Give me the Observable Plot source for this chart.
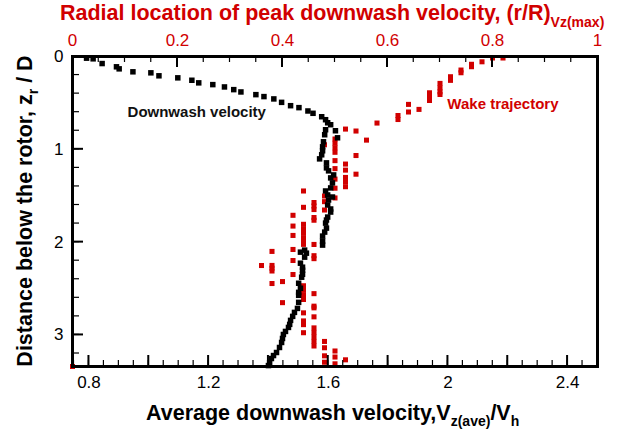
<!DOCTYPE html>
<html><head><meta charset="utf-8">
<script src="https://cdn.jsdelivr.net/npm/d3@7"></script>
<script src="https://cdn.jsdelivr.net/npm/@observablehq/plot@0.6"></script>
<style>
html,body{margin:0;padding:0;background:#fff;}
#chart{position:relative;width:622px;height:432px;font-family:"Liberation Sans",Arial,Helvetica,sans-serif;}
#chart > svg{position:absolute;left:0;top:0;}
</style></head><body><div id="chart"></div>
<script>
// Black series: average downwash velocity vs depth
const downwashVelocity = [0.792,0.814,0.844,0.892,0.901,0.947,1.007,1.034,1.097,1.144,1.167,1.214,1.253,1.284,1.308,1.358,1.385,1.418,1.444,1.474,1.502,1.532,1.549,
  1.578,1.591,1.598,1.608,1.591,1.624,1.588,1.631,1.584,1.581,1.581,1.578,1.571,1.594,1.594,1.601,1.618,1.608,1.614,1.608,1.591,1.598,1.614,1.601,1.598,1.608,1.608,1.598,1.594,1.591,1.594,1.588,1.581,1.581,1.581,
  1.521,1.507,1.527,1.521,1.507,1.514,1.514,1.514,1.511,1.501,1.507,1.501,1.501,1.501,1.497,1.487,1.481,1.474,1.471,1.467,1.457,1.450,1.447,1.444,1.437,1.427,1.417,1.410,1.404,1.400];
const downwashDepth = [0.018,0.025,0.076,0.111,0.133,0.165,0.176,0.208,0.230,0.256,0.284,0.303,0.328,0.357,0.382,0.411,0.432,0.457,0.494,0.530,0.551,0.587,0.612,
  0.649,0.681,0.714,0.735,0.789,0.800,0.843,0.876,0.919,0.973,1.016,1.059,1.103,1.146,1.200,1.232,1.276,1.308,1.362,1.416,1.449,1.492,1.514,1.546,1.600,1.643,1.676,1.730,1.762,1.795,1.849,1.892,1.935,1.989,2.032,
  2.086,2.108,2.119,2.162,2.227,2.270,2.303,2.346,2.378,2.443,2.497,2.541,2.573,2.649,2.714,2.757,2.800,2.843,2.886,2.919,2.962,2.995,3.038,3.081,3.135,3.189,3.222,3.254,3.297,3.330];

// Red series: radial location of peak downwash velocity vs depth
const wakeRadius = [
  0.82, 0.80, 0.78, 0.76, 0.76, 0.74, 0.74, 0.72, 0.72,
  0.70, 0.70, 0.70, 0.70, 0.68, 0.68, 0.68, 0.66, 0.64, 0.64,
  0.62, 0.62, 0.58, 0.56, 0.54, 0.54, 0.54,
  0.52, 0.52, 0.52, 0.52, 0.52, 0.52, 0.52,
  0.50, 0.50, 0.50, 0.50, 0.50, 0.50, 0.50, 0.50, 0.50, 0.50, 0.50, 0.50,
  0.48, 0.48, 0.48, 0.48, 0.48, 0.48, 0.48, 0.48,
  0.46, 0.46, 0.46, 0.46, 0.46, 0.46, 0.46, 0.46, 0.46, 0.46, 0.46, 0.46, 0.46, 0.46, 0.46, 0.46, 0.46,
  0.44, 0.44, 0.44, 0.44, 0.44, 0.44, 0.44, 0.44, 0.44, 0.44, 0.44, 0.44, 0.44, 0.44, 0.44, 0.44,
  0.42, 0.42, 0.42, 0.42, 0.42, 0.42,
  0.40, 0.40,
  0.38, 0.38, 0.38, 0.38, 0.38,
  0.36, 0.00];
const wakeDepth = [
  0.016, 0.016, 0.057, 0.084, 0.110, 0.146, 0.175, 0.218, 0.257,
  0.290, 0.338, 0.381, 0.409, 0.391, 0.432, 0.474, 0.570, 0.516, 0.598,
  0.636, 0.679, 0.717, 0.901, 0.803, 1.067, 1.268,
  0.782, 1.159, 1.224, 1.303, 1.351, 1.403, 3.268,
  0.889, 0.935, 0.984, 1.032, 1.122, 1.208, 1.321, 1.419, 1.524, 3.173, 3.238, 3.311,
  0.951, 1.503, 1.564, 1.654, 3.070, 3.138, 3.225, 3.294,
  1.573, 1.611, 1.649, 1.735, 1.764, 2.025, 2.146, 2.178, 2.555, 2.690, 2.708, 2.805, 2.924, 2.973, 3.022, 3.070, 3.119,
  1.449, 1.625, 1.808, 1.856, 1.905, 1.954, 2.002, 2.024, 2.470, 2.519, 2.568, 2.618, 2.762, 2.849, 2.889, 2.976,
  1.711, 1.827, 1.928, 2.079, 2.198, 2.349,
  2.425, 2.652,
  2.100, 2.251, 2.281, 2.311, 2.446,
  2.252, 3.34];

const velocityTickLabels = [0.8, 1.2, 1.6, 2, 2.4];
const radialTickLabels = [0, 0.2, 0.4, 0.6, 0.8, 1];
const depthTickLabels = [0, 1, 2, 3];

const RED = "#d10000";
const FONT = '"Liberation Sans", Arial, Helvetica, sans-serif';
const W = 622, H = 432, ML = 72, MR = 25, MT = 56, MB = 66;

const black = downwashVelocity.map((v, i) => ({v, z: downwashDepth[i]}));
const wake = wakeRadius.map((r, i) => ({r, z: wakeDepth[i]}));

const velMajor = d3.range(0.8, 2.45, 0.2);
const velMinor = d3.range(0.75, 2.501, 0.05);
const radMinor = d3.range(0, 1.001, 0.05);
const depMinor = d3.range(0, 3.35, 0.2);

const fmt = d => String(d);

const common = {
  width: W, height: H,
  marginLeft: ML, marginRight: MR, marginTop: MT, marginBottom: MB,
  y: {domain: [0, 3.34], reverse: true, axis: null},
  style: {background: "transparent", fontFamily: FONT, overflow: "visible"}
};

const redPlot = Plot.plot({
  ...common,
  x: {domain: [0, 1], axis: null},
  marks: [
    Plot.dot(wake, {x: "r", y: "z", symbol: "square", r: 2.85, fill: RED}),
    Plot.axisX(radialTickLabels, {anchor: "top", tickSize: 0, tickPadding: 11, fontSize: 17, fill: RED, tickFormat: fmt, label: null}),
    Plot.text(["Wake trajectory"], {x: 0.714, y: 0.511, text: d => d, textAnchor: "start", fill: RED, fontSize: 15, fontWeight: "bold"})
  ]
});

const blackPlot = Plot.plot({
  ...common,
  x: {domain: [0.745, 2.5], axis: null},
  marks: [
    Plot.dot(black, {x: "v", y: "z", symbol: "square", r: 3.1, fill: "black"}),
    Plot.axisX(velocityTickLabels, {anchor: "bottom", tickSize: 0, tickPadding: 9, fontSize: 17, fill: "black", tickFormat: fmt, label: null}),
    Plot.axisY(depthTickLabels, {anchor: "left", tickSize: 0, tickPadding: 9, fontSize: 17, fill: "black", tickFormat: fmt, label: null}),
    Plot.frame({stroke: "black", strokeWidth: 3}),
    Plot.text(["Downwash velocity"], {x: 0.929, y: 0.602, text: d => d, textAnchor: "start", fill: "#111", fontSize: 15, fontWeight: "bold"})
  ]
});

const chartDiv = document.getElementById("chart");
chartDiv.appendChild(redPlot);
chartDiv.appendChild(blackPlot);

// Scales taken from the rendered plots
function toLinear(desc, fallbackRange) {
  const dom = desc && desc.domain ? desc.domain : null;
  const rng = desc && desc.range ? desc.range : fallbackRange;
  return d3.scaleLinear(dom, rng);
}
const xV = toLinear(blackPlot.scale("x"), [ML, W - MR]);
const xR = toLinear(redPlot.scale("x"), [ML, W - MR]);
const yZ = toLinear(blackPlot.scale("y"), [MT, H - MB]);

// Overlay svg for inward ticks and titles (on top of both plots)
const over = d3.select(chartDiv).append("svg")
  .attr("width", W).attr("height", H).attr("viewBox", `0 0 ${W} ${H}`)
  .style("position", "absolute").style("left", "0px").style("top", "0px")
  .style("z-index", 10).style("pointer-events", "none").style("overflow", "visible");

const frameBottom = H - MB, frameTop = MT, frameLeft = ML;
function hTicks(values, scale, y0, dir, len, sw) {
  values.forEach(v => {
    const x = scale(v);
    over.append("path").attr("d", `M${x},${y0}V${y0 + dir * len}`)
      .attr("stroke", "#000").attr("stroke-width", sw).attr("fill", "none");
  });
}
function vTicks(values, scale, x0, len, sw) {
  values.forEach(v => {
    const y = scale(v);
    over.append("path").attr("d", `M${x0},${y}H${x0 + len}`)
      .attr("stroke", "#000").attr("stroke-width", sw).attr("fill", "none");
  });
}
hTicks(velMinor, xV, frameBottom, -1, 6, 1.2);
hTicks(velMajor, xV, frameBottom, -1, 11, 2);
hTicks(radMinor, xR, frameTop, 1, 6, 1.2);
hTicks(radialTickLabels, xR, frameTop, 1, 11, 2);
vTicks(depMinor, yZ, frameLeft, 7, 1.2);
vTicks(depthTickLabels, yZ, frameLeft, 11, 2);

// Top title (red)
const t1 = over.append("text").attr("x", 60).attr("y", 20).attr("fill", RED).attr("text-anchor", "start")
  .attr("font-weight", "bold").attr("font-size", 21.5).attr("font-family", FONT);
t1.append("tspan").text("Radial location of peak downwash velocity, (r/R)");
t1.append("tspan").attr("font-size", 14).attr("dy", 7).text("Vz(max)");

// Bottom title
const t2 = over.append("text").attr("x", 146).attr("y", 420).attr("fill", "black").attr("text-anchor", "start")
  .attr("font-weight", "bold").attr("font-size", 21.5).attr("font-family", FONT);
t2.append("tspan").text("Average downwash velocity,V");
t2.append("tspan").attr("font-size", 14).attr("dy", 6).text("z(ave)");
t2.append("tspan").attr("dy", -6).text("/V");
t2.append("tspan").attr("font-size", 14).attr("dy", 6).text("h");

// Left title
const t3 = over.append("text").attr("transform", "translate(32,211) rotate(-90)")
  .attr("text-anchor", "middle").attr("fill", "black")
  .attr("font-weight", "bold").attr("font-size", 21.5).attr("font-family", FONT);
t3.append("tspan").text("Distance below the rotor, z");
t3.append("tspan").attr("font-size", 14).attr("dy", 6).text("r");
t3.append("tspan").attr("dy", -6).text(" / D");
</script>
</body></html>
